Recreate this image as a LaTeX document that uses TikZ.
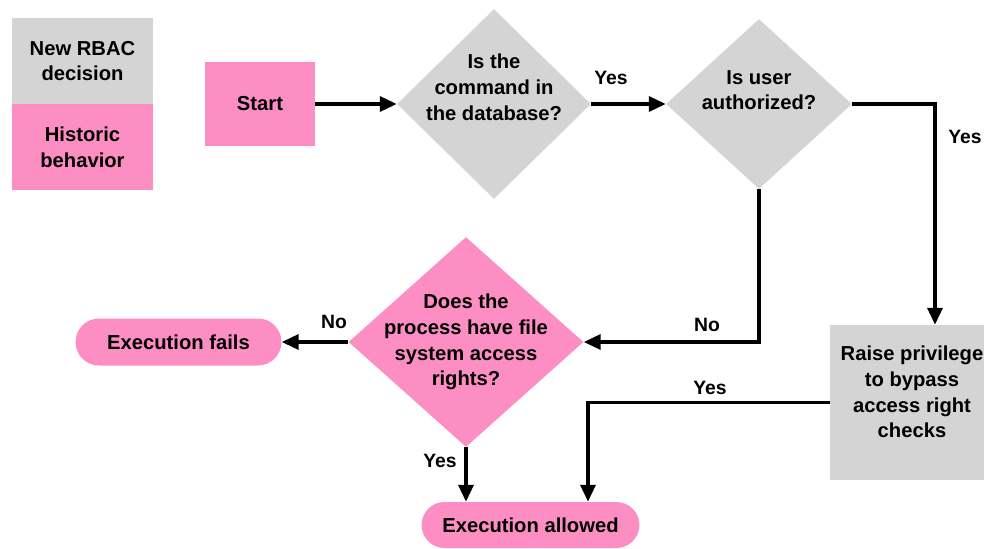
\documentclass[tikz,border=0pt]{standalone}
\usepackage{fontspec}
\setmainfont{Liberation Sans}
\usetikzlibrary{shapes.geometric,shapes.misc,arrows.meta}

\definecolor{rbacgray}{RGB}{212,212,212}
\definecolor{histpink}{RGB}{253,142,196}

\tikzset{box/.style = {shape = rectangle,
                       inner sep = 2pt,
                       align = center,
                       font = \fontsize{11.5}{14.6}\selectfont\bfseries},
         dnode/.style = {shape = diamond,
                         inner sep = -8pt,
                         align = center,
                         font = \fontsize{11.5}{14.6}\selectfont\bfseries},
         pill/.style = {shape = rounded rectangle,
                        fill = histpink,
                        inner sep = 2pt,
                        font = \fontsize{11.5}{14.6}\selectfont\bfseries},
         conn/.style = {line width = 1.8pt,
                        -{Triangle[length=9.5pt,width=8.5pt]}},
         lbl/.style = {font = \fontsize{11}{13}\selectfont\bfseries}}

\begin{document}
\begin{tikzpicture}[x=0.02cm, y=-0.02cm]
		\useasboundingbox (0,0) rectangle (984,548);
		% legend
		\node[box, fill=rbacgray, minimum width=2.82cm, minimum height=1.72cm] (leg1) at (82.5,61) {New RBAC\\decision};
		\node[box, fill=histpink, minimum width=2.82cm, minimum height=1.72cm] (leg2) at (82.5,147) {Historic\\behavior};
		% nodes
		\node[box, fill=histpink, minimum width=2.2cm, minimum height=1.7cm] (start) at (260,104) {Start};
		\node[dnode, fill=rbacgray, minimum width=3.88cm, minimum height=3.8cm, text depth=19pt] (d1) at (494,104) {Is the\\command in\\the database?};
		\node[dnode, fill=rbacgray, minimum width=3.72cm, minimum height=3.4cm, text depth=16pt] (d2) at (759,104) {Is user\\authorized?};
		\node[dnode, fill=histpink, minimum width=4.7cm, minimum height=4.2cm] (d3) at (466,342) {Does the\\process have file\\system access\\rights?};
		\node[pill, minimum width=4.26cm, minimum height=0.94cm] (fails) at (178.5,342) {Execution fails};
		\node[pill, minimum width=4.5cm, minimum height=0.92cm] (allowed) at (530.5,525) {Execution allowed};
		\node[box, fill=rbacgray, minimum width=3.28cm, minimum height=3.1cm, text depth=12pt] (raise) at (912,402.5) {Raise privilege\\to bypass\\access right\\checks};
		% connectors
		\path[conn] (start) edge (d1.west);
		\path[conn] (d1.east) edge (d2.west);
		\draw[conn] (d2.east) -| ([xshift=0.46cm]raise.north);
		\draw[conn] (d2.south) |- (d3.east);
		\path[conn] (d3.west) edge (fails.east);
		\draw[conn] (d3.south) -- (d3.south |- allowed.north);
		\draw[conn] (raise.west) -| ([xshift=1.15cm]allowed.north);
		% labels
		\node[lbl] (y1) at (611,78) {Yes};
		\node[lbl] (y2) at (965,137) {Yes};
		\node[lbl] (n1) at (707,325) {No};
		\node[lbl] (n2) at (334,322) {No};
		\node[lbl] (y3) at (440,461) {Yes};
		\node[lbl] (y4) at (710,388) {Yes};
	\end{tikzpicture}
\end{document}
